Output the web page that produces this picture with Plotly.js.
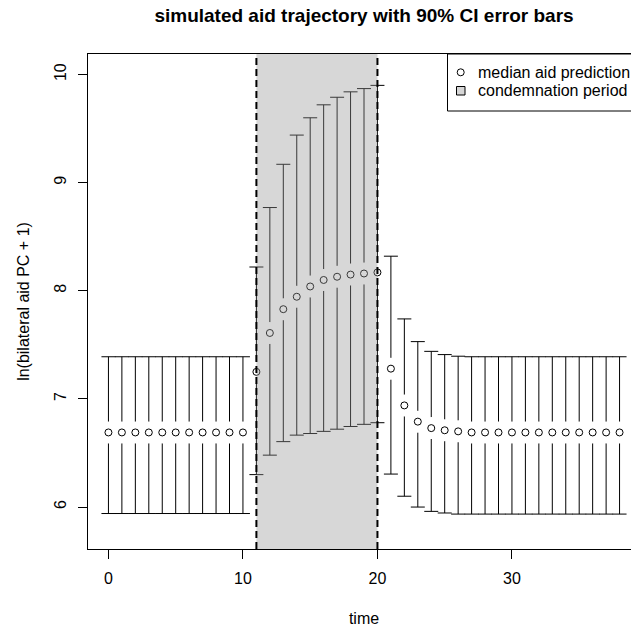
<!DOCTYPE html>
<html>
<head>
<meta charset="utf-8">
<script src="https://cdn.plot.ly/plotly-3.0.1.min.js"></script>
<style>
  html, body { margin: 0; padding: 0; overflow: hidden; background: #fff; }
  #chart { width: 660px; height: 627px; }
</style>
</head>
<body>
<div id="chart"></div>
<script>
// ---- data ----
const time = [0,1,2,3,4,5,6,7,8,9,10,11,12,13,14,15,16,17,18,19,20,21,22,23,24,25,26,27,28,29,30,31,32,33,34,35,36,37,38];
const medianAid = [6.69,6.69,6.69,6.69,6.69,6.69,6.69,6.69,6.69,6.69,6.69,
  7.25,7.61,7.83,7.945,8.04,8.10,8.13,8.15,8.16,8.17,
  7.28,6.94,6.79,6.73,6.71,6.70,
  6.69,6.69,6.69,6.69,6.69,6.69,6.69,6.69,6.69,6.69,6.69,6.69];
const upperCI = [7.39,7.39,7.39,7.39,7.39,7.39,7.39,7.39,7.39,7.39,7.39,
  8.22,8.77,9.17,9.44,9.60,9.72,9.79,9.84,9.87,9.90,
  8.32,7.74,7.53,7.44,7.41,7.395,
  7.39,7.39,7.39,7.39,7.39,7.39,7.39,7.39,7.39,7.39,7.39,7.39];
const lowerCI = [5.94,5.94,5.94,5.94,5.94,5.94,5.94,5.94,5.94,5.94,5.94,
  6.30,6.48,6.605,6.665,6.68,6.70,6.72,6.745,6.765,6.78,
  6.305,6.10,6.00,5.96,5.945,5.935,
  5.935,5.935,5.935,5.935,5.935,5.935,5.935,5.935,5.935,5.935,5.935,5.935];
const condemnStart = 11;
const condemnEnd = 20;
const titleText = "simulated aid trajectory with 90% CI error bars";
const xLabel = "time";
const yLabel = "ln(bilateral aid PC + 1)";
const legendLabels = ["median aid prediction", "condemnation period"];
const xTicks = [0, 10, 20, 30];
const yTicks = [6, 7, 8, 9, 10];

// ---- geometry ----
const W = 660, H = 627;
const L = 88, T = 54, B = 549, R = 640;
const pw = R - L, ph = B - T;
const px = x => (x - L) / pw;
const py = y => (B - y) / ph;
const FONT = '"Liberation Sans", Arial, Helvetica, sans-serif';
const shadeFill = 'rgba(150,150,150,0.38)';

const errUp = upperCI.map((u, i) => u - medianAid[i]);
const errDn = lowerCI.map((l, i) => medianAid[i] - l);

const traces = [
  { // error bars with a white mask around each point (gap like R plotCI)
    type: 'scatter', mode: 'markers', x: time, y: medianAid,
    marker: { symbol: 'circle', size: 22, color: '#ffffff', line: { width: 0 } },
    error_y: { type: 'data', symmetric: false, array: errUp, arrayminus: errDn,
               color: '#000000', thickness: 1, width: 7 },
    hoverinfo: 'skip', showlegend: false
  },
  {
    type: 'scatter', mode: 'markers', x: time, y: medianAid,
    name: legendLabels[0],
    marker: { symbol: 'circle-open', size: 7, color: '#000000', line: { width: 1, color: '#000000' } },
    showlegend: false
  }
];

const shapes = [
  { type: 'rect', xref: 'x', yref: 'paper', x0: condemnStart, x1: condemnEnd, y0: 0, y1: 1,
    fillcolor: shadeFill, line: { width: 0 }, layer: 'above' },
  { type: 'line', xref: 'x', yref: 'paper', x0: condemnStart, x1: condemnStart, y0: 0, y1: 1,
    line: { color: '#000', width: 2, dash: '7px,4px' }, layer: 'above' },
  { type: 'line', xref: 'x', yref: 'paper', x0: condemnEnd, x1: condemnEnd, y0: 0, y1: 1,
    line: { color: '#000', width: 2, dash: '7px,4px' }, layer: 'above' },
  // legend box
  { type: 'rect', xref: 'paper', yref: 'paper', x0: px(447.5), x1: px(640), y0: py(111), y1: py(54),
    fillcolor: '#ffffff', line: { color: '#000', width: 1 }, layer: 'above' },
  // legend circle symbol
  { type: 'circle', xref: 'paper', yref: 'paper', x0: px(460.7 - 3.5), x1: px(460.7 + 3.5),
    y0: py(72.3 + 3.5), y1: py(72.3 - 3.5), line: { color: '#000', width: 1 }, layer: 'above' },
  // legend square symbol
  { type: 'rect', xref: 'paper', yref: 'paper', x0: px(456.5), x1: px(465), y0: py(95), y1: py(86.5),
    fillcolor: '#d6d6d6', line: { color: '#000', width: 1 }, layer: 'above' }
];

const annotations = [
  { xref: 'paper', yref: 'paper', x: px(476), y: py(72.3), xanchor: 'left', yanchor: 'middle',
    text: legendLabels[0], showarrow: false, font: { family: FONT, size: 16, color: '#000' } },
  { xref: 'paper', yref: 'paper', x: px(476), y: py(90.7), xanchor: 'left', yanchor: 'middle',
    text: legendLabels[1], showarrow: false, font: { family: FONT, size: 16, color: '#000' } }
];

const layout = {
  width: W, height: H,
  margin: { l: L, r: W - R, t: T, b: H - B, pad: 0 },
  paper_bgcolor: '#ffffff', plot_bgcolor: '#ffffff',
  font: { family: FONT, size: 16, color: '#000' },
  showlegend: false,
  title: { text: '<b>' + titleText + '</b>', font: { family: FONT, size: 19, color: '#000' },
           xref: 'paper', x: 0.5, xanchor: 'center', yref: 'container', y: 1 - 15 / H, yanchor: 'middle' },
  xaxis: {
    range: [-1.52, 39.52], tickmode: 'array', tickvals: xTicks, ticktext: xTicks.map(String),
    showgrid: false, zeroline: false, showline: true, mirror: true, linecolor: '#000', linewidth: 1,
    ticks: 'outside', ticklen: 9, tickwidth: 1, tickcolor: '#000', ticklabelstandoff: 6,
    tickfont: { family: FONT, size: 16, color: '#000' },
    title: { text: xLabel, font: { family: FONT, size: 16, color: '#000' }, standoff: 26 },
    automargin: false
  },
  yaxis: {
    range: [5.612, 10.19], tickmode: 'array', tickvals: yTicks, ticktext: yTicks.map(String),
    showgrid: false, zeroline: false, showline: true, mirror: true, linecolor: '#000', linewidth: 1,
    ticks: 'outside', ticklen: 9, tickwidth: 1, tickcolor: '#000', tickangle: -90, ticklabelstandoff: 6,
    tickfont: { family: FONT, size: 16, color: '#000' },
    title: { text: yLabel, font: { family: FONT, size: 16, color: '#000' }, standoff: 17 },
    automargin: false
  },
  shapes: shapes,
  annotations: annotations
};

Plotly.newPlot('chart', traces, layout, { staticPlot: true, displayModeBar: false });
</script>
</body>
</html>
